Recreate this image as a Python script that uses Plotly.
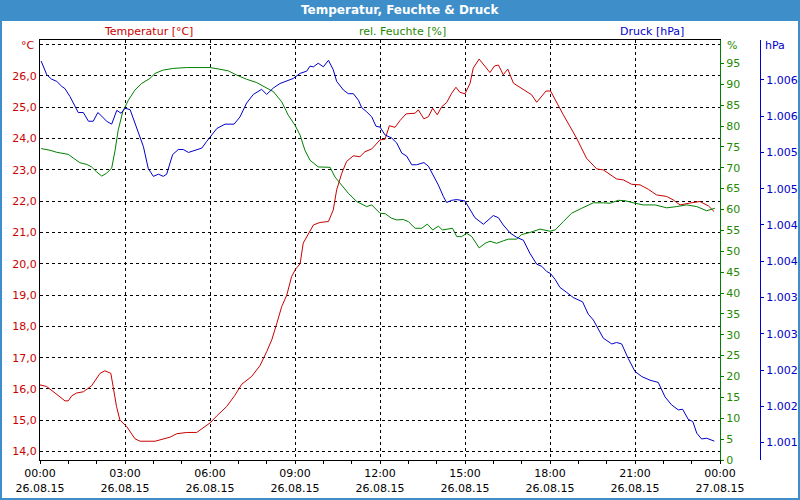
import plotly.graph_objects as go

# ---------------- data ----------------
x_tickvals = [0, 3, 6, 9, 12, 15, 18, 21, 24]
x_ticktext = ["00:00<br>26.08.15", "03:00<br>26.08.15", "06:00<br>26.08.15",
              "09:00<br>26.08.15", "12:00<br>26.08.15", "15:00<br>26.08.15",
              "18:00<br>26.08.15", "21:00<br>26.08.15", "00:00<br>27.08.15"]

temp_tickvals = [14, 15, 16, 17, 18, 19, 20, 21, 22, 23, 24, 25, 26, 27]
temp_ticktext = ["14,0", "15,0", "16,0", "17,0", "18,0", "19,0", "20,0",
                 "21,0", "22,0", "23,0", "24,0", "25,0", "26,0", ""]

hum_tickvals = [0, 5, 10, 15, 20, 25, 30, 35, 40, 45, 50, 55, 60, 65, 70,
                75, 80, 85, 90, 95]

pres_tickvals = [1001.0, 1001.5, 1002.0, 1002.5, 1003.0, 1003.5, 1004.0,
                 1004.5, 1005.0, 1005.5, 1006.0]
pres_ticktext = ["1.001", "1.002", "1.002", "1.003", "1.003", "1.004",
                 "1.004", "1.005", "1.005", "1.006", "1.006"]

# Temperatur [°C]
temp_h = [0.0, 0.23, 0.53, 0.88, 1.0, 1.12, 1.29, 1.53, 1.82, 2.12,
          2.29, 2.5, 2.58, 2.7, 2.82, 3.06, 3.35, 3.53, 4.06, 4.35,
          4.59, 4.83, 5.18, 5.53, 5.76, 6.01, 6.24, 6.59, 6.88, 7.12,
          7.47, 7.76, 8.0, 8.18, 8.36, 8.53, 8.71, 8.88, 9.02, 9.18,
          9.29, 9.41, 9.65, 9.88, 10.18, 10.35, 10.47, 10.65, 10.82, 11.06,
          11.29, 11.47, 11.71, 12.0, 12.18, 12.33, 12.53, 12.71, 12.92, 13.24,
          13.35, 13.55, 13.71, 13.86, 14.02, 14.18, 14.35, 14.53, 14.68, 14.82,
          15.0, 15.18, 15.29, 15.5, 15.71, 15.88, 16.04, 16.18, 16.35, 16.51,
          16.71, 16.94, 17.18, 17.35, 17.53, 17.71, 17.86, 18.02, 18.24, 18.47,
          18.71, 18.94, 19.29, 19.65, 19.88, 20.12, 20.35, 20.59, 20.88, 21.18,
          21.47, 21.76, 22.12, 22.35, 22.59, 22.94, 23.29, 23.59, 23.79]
temp_v = [16.13, 16.08, 15.87, 15.62, 15.62, 15.78, 15.87, 15.91, 16.10, 16.50,
          16.58, 16.50, 16.08, 15.44, 15.01, 14.80, 14.41, 14.33, 14.33, 14.40,
          14.46, 14.57, 14.61, 14.61, 14.77, 14.92, 15.14, 15.44, 15.80, 16.15,
          16.40, 16.74, 17.19, 17.57, 18.10, 18.63, 19.00, 19.59, 19.83, 20.00,
          20.66, 20.87, 21.24, 21.32, 21.35, 21.72, 22.36, 22.89, 23.27, 23.45,
          23.42, 23.58, 23.67, 23.96, 23.98, 24.41, 24.36, 24.58, 24.79, 24.81,
          24.92, 24.63, 24.70, 24.97, 24.76, 25.02, 25.15, 25.45, 25.64, 25.48,
          25.43, 25.77, 26.25, 26.54, 26.30, 26.11, 26.32, 26.35, 26.04, 26.22,
          25.77, 25.64, 25.50, 25.40, 25.16, 25.34, 25.52, 25.52, 25.13, 24.76,
          24.38, 24.01, 23.37, 23.03, 23.00, 22.84, 22.71, 22.68, 22.54, 22.52,
          22.38, 22.20, 22.15, 22.04, 21.88, 21.94, 21.99, 21.85, 21.67]

# rel. Feuchte [%]
hum_h = [0.04, 0.35, 0.59, 0.82, 1.0, 1.18, 1.41, 1.65, 1.82, 2.0,
         2.18, 2.35, 2.53, 2.65, 2.76, 2.92, 3.12, 3.35, 3.59, 3.88,
         4.06, 4.35, 4.71, 5.18, 6.0, 6.35, 6.65, 6.94, 7.29, 7.65,
         8.0, 8.24, 8.53, 8.76, 9.0, 9.18, 9.35, 9.53, 9.82, 10.24,
         10.41, 10.59, 10.88, 11.18, 11.53, 11.71, 12.0, 12.18, 12.41, 12.59,
         12.82, 13.0, 13.24, 13.47, 13.67, 13.86, 14.06, 14.2, 14.56, 14.71,
         14.88, 15.06, 15.24, 15.5, 15.71, 15.88, 16.12, 16.35, 16.53, 16.82,
         17.0, 17.29, 17.65, 18.0, 18.18, 18.47, 18.76, 19.12, 19.53, 19.88,
         20.12, 20.41, 20.65, 21.0, 21.29, 21.71, 22.12, 22.47, 22.82, 23.18,
         23.53, 23.82]
hum_v = [74.6, 74.2, 73.7, 73.4, 73.2, 72.3, 71.2, 70.8, 70.2, 69.0,
         68.0, 68.7, 69.9, 74.2, 79.0, 83.4, 86.2, 88.6, 90.2, 91.4,
         92.6, 93.4, 93.8, 94.0, 94.0, 93.6, 93.2, 92.2, 91.2, 90.4,
         89.2, 88.2, 85.8, 82.6, 80.2, 77.8, 74.2, 71.8, 70.2, 70.1,
         67.8, 66.3, 63.9, 61.9, 60.7, 61.1, 59.1, 59.0, 57.9, 57.5,
         57.6, 57.1, 55.5, 55.5, 56.5, 55.1, 56.0, 55.1, 55.5, 53.5,
         53.5, 54.3, 53.5, 50.8, 51.9, 52.4, 51.9, 52.5, 52.9, 52.9,
         54.0, 54.5, 55.3, 54.8, 55.1, 57.1, 59.1, 60.3, 61.6, 61.6,
         61.5, 62.2, 62.1, 61.5, 61.1, 61.1, 60.4, 60.7, 61.1, 60.7,
         59.7, 60.3]

# Druck [hPa]
pres_h = [0.04, 0.24, 0.41, 0.59, 0.77, 0.88, 1.06, 1.18, 1.35, 1.53,
          1.71, 1.88, 2.04, 2.18, 2.35, 2.53, 2.71, 2.86, 3.0, 3.18,
          3.41, 3.65, 3.82, 4.0, 4.18, 4.35, 4.47, 4.68, 4.88, 5.06,
          5.24, 5.47, 5.71, 5.88, 6.06, 6.24, 6.53, 6.85, 7.06, 7.29,
          7.53, 7.82, 8.0, 8.24, 8.47, 8.71, 8.94, 9.18, 9.41, 9.53,
          9.65, 9.82, 10.0, 10.18, 10.35, 10.47, 10.71, 10.88, 11.06, 11.24,
          11.35, 11.53, 11.71, 11.86, 12.0, 12.18, 12.41, 12.59, 12.77, 12.94,
          13.12, 13.29, 13.55, 13.71, 13.88, 14.06, 14.24, 14.35, 14.53, 14.71,
          15.0, 15.18, 15.35, 15.65, 15.82, 16.0, 16.18, 16.35, 16.59, 16.82,
          17.06, 17.29, 17.53, 17.71, 17.88, 18.02, 18.18, 18.35, 18.59, 18.82,
          19.15, 19.35, 19.53, 19.71, 19.88, 20.18, 20.35, 20.53, 20.76, 21.0,
          21.24, 21.53, 21.82, 22.06, 22.29, 22.53, 22.68, 22.88, 23.04, 23.18,
          23.35, 23.53, 23.8]
pres_v = [1006.26, 1006.07, 1006.01, 1005.98, 1005.91, 1005.88, 1005.77, 1005.68, 1005.55, 1005.55,
          1005.43, 1005.43, 1005.55, 1005.50, 1005.43, 1005.39, 1005.58, 1005.54, 1005.61, 1005.59,
          1005.33, 1005.08, 1004.78, 1004.67, 1004.70, 1004.67, 1004.70, 1004.97, 1005.04, 1005.04,
          1005.00, 1005.03, 1005.06, 1005.15, 1005.24, 1005.33, 1005.39, 1005.39, 1005.49, 1005.68,
          1005.80, 1005.87, 1005.80, 1005.89, 1005.95, 1005.99, 1006.02, 1006.09, 1006.12, 1006.19,
          1006.18, 1006.23, 1006.18, 1006.27, 1006.14, 1005.98, 1005.86, 1005.81, 1005.81, 1005.72,
          1005.62, 1005.56, 1005.49, 1005.36, 1005.35, 1005.24, 1005.20, 1005.13, 1004.99, 1004.95,
          1004.83, 1004.83, 1004.86, 1004.81, 1004.69, 1004.55, 1004.39, 1004.31, 1004.34, 1004.35,
          1004.33, 1004.21, 1004.10, 1004.01, 1004.07, 1004.13, 1004.10, 1004.00, 1003.89, 1003.83,
          1003.79, 1003.61, 1003.46, 1003.43, 1003.36, 1003.33, 1003.25, 1003.14, 1003.07, 1003.00,
          1002.94, 1002.77, 1002.69, 1002.55, 1002.44, 1002.36, 1002.38, 1002.36, 1002.16, 1001.98,
          1001.91, 1001.86, 1001.83, 1001.63, 1001.52, 1001.45, 1001.46, 1001.32, 1001.29, 1001.13,
          1001.05, 1001.06, 1001.02]

# ---------------- style ----------------
RED = "#cc0000"
GREEN = "#008000"
GREEN_TXT = "#1f8a00"
BLUE = "#0000cc"
FRAME = "#3d8ec9"
FONT = "DejaVu Sans"

W, H = 800, 500
ML, MR, MT, MB = 40, 40, 40, 40


def px(x):
    return (x - ML) / (W - ML - MR)


def py(y):
    return (H - MB - y) / (H - MT - MB)


fig = go.Figure()
fig.add_trace(go.Scatter(x=temp_h, y=temp_v, mode="lines", yaxis="y",
                         line=dict(color=RED, width=1), name="Temperatur"))
fig.add_trace(go.Scatter(x=hum_h, y=hum_v, mode="lines", yaxis="y2",
                         line=dict(color=GREEN, width=1), name="Feuchte"))
fig.add_trace(go.Scatter(x=pres_h, y=pres_v, mode="lines", yaxis="y3",
                         line=dict(color=BLUE, width=1), name="Druck"))

fig.update_layout(
    width=W, height=H,
    margin=dict(l=ML, r=MR, t=MT, b=MB, pad=0, autoexpand=False),
    paper_bgcolor="white", plot_bgcolor="white",
    showlegend=False, hovermode=False,
    font=dict(family=FONT, size=11, color="black"),
    xaxis=dict(
        domain=[0, px(720)], range=[0, 24], automargin=False,
        tickmode="array", tickvals=x_tickvals, ticktext=x_ticktext,
        ticks="outside", ticklen=3, tickcolor="black",
        showline=True, linecolor="black", linewidth=1, mirror=True,
        showgrid=True, gridcolor="black", griddash="3px,3px", gridwidth=1,
        zeroline=False, tickfont=dict(color="black", size=11),
        minor=dict(dtick=1, ticks="outside", ticklen=3, tickcolor="black",
                   showgrid=False),
    ),
    yaxis=dict(
        range=[13.73, 27.15], tickmode="array", automargin=False,
        tickvals=temp_tickvals, ticktext=temp_ticktext,
        showline=True, linecolor="black", linewidth=1,
        showgrid=True, gridcolor="black", griddash="3px,3px", gridwidth=1,
        zeroline=False, ticks="", tickfont=dict(color=RED, size=11),
    ),
    yaxis2=dict(
        range=[0, 100.6], overlaying="y", side="right", anchor="x",
        tickmode="array", tickvals=hum_tickvals, automargin=False,
        showline=True, linecolor=GREEN, linewidth=1,
        ticks="outside", ticklen=3, tickcolor=GREEN,
        showgrid=False, zeroline=False, tickfont=dict(color=GREEN_TXT, size=11),
    ),
    yaxis3=dict(
        range=[1000.76, 1006.55], overlaying="y", side="right",
        anchor="free", position=1.0, automargin=False,
        tickmode="array", tickvals=pres_tickvals, ticktext=pres_ticktext,
        showline=True, linecolor=BLUE, linewidth=1,
        ticks="outside", ticklen=3, tickcolor=BLUE,
        showgrid=False, zeroline=False, tickfont=dict(color=BLUE, size=11),
    ),
)

# frame and title band
fig.add_shape(type="rect", xref="paper", yref="paper",
              x0=px(0), x1=px(800), y0=py(21), y1=py(0),
              fillcolor=FRAME, line=dict(width=0), layer="above")
fig.add_shape(type="rect", xref="paper", yref="paper",
              x0=px(1), x1=px(799), y0=py(499), y1=py(1),
              fillcolor="rgba(0,0,0,0)", line=dict(color=FRAME, width=2),
              layer="above")

ann = [
    dict(text="<b>Temperatur, Feuchte & Druck</b>", x=px(400), y=py(10),
         color="white", size=12, xanchor="center"),
    dict(text="Temperatur [°C]", x=px(148), y=py(31), color=RED, size=11,
         xanchor="center"),
    dict(text="rel. Feuchte [%]", x=px(402), y=py(31), color=GREEN_TXT, size=11,
         xanchor="center"),
    dict(text="Druck [hPa]", x=px(652), y=py(31), color=BLUE, size=11,
         xanchor="center"),
    dict(text="°C", x=px(37), y=py(46), color=RED, size=11, xanchor="right"),
    dict(text="%", x=px(725), y=py(46), color=GREEN_TXT, size=11, xanchor="left"),
    dict(text="hPa", x=px(763), y=py(46), color=BLUE, size=11, xanchor="left"),
]
for a in ann:
    fig.add_annotation(text=a["text"], x=a["x"], y=a["y"], xref="paper",
                       yref="paper", showarrow=False, xanchor=a["xanchor"],
                       yanchor="middle",
                       font=dict(family=FONT, size=a["size"], color=a["color"]))

fig.write_html(
    "out.html",
    config={"displayModeBar": False, "staticPlot": True},
    post_script="document.body.style.margin='0';document.body.style.padding='0';"
                "document.body.style.overflow='hidden';",
)
